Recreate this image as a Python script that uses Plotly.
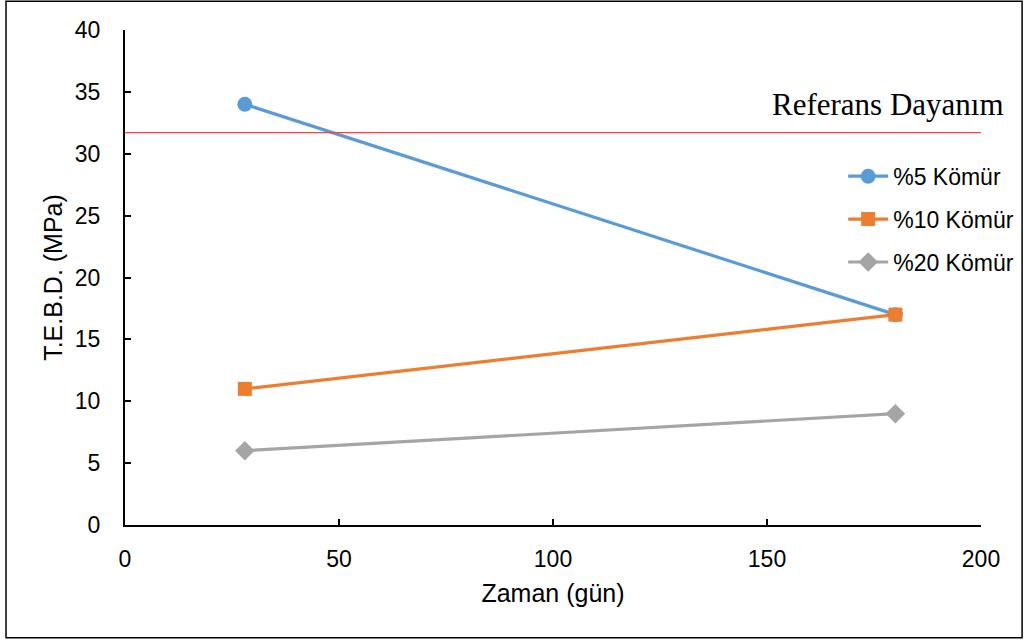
import plotly.graph_objects as go

# data
days = [28, 180]
komur_5 = [34, 17]
komur_10 = [11, 17]
komur_20 = [6, 9]
ref_strength = 31.7
series_names = ["%5 Kömür", "%10 Kömür", "%20 Kömür"]

fig = go.Figure()

styles = [
    dict(color="#5B9BD5", symbol="circle", size=15),
    dict(color="#ED7D31", symbol="square", size=14),
    dict(color="#A5A5A5", symbol="diamond", size=15),
]
for name, vals, st in zip(series_names, [komur_5, komur_10, komur_20], styles):
    fig.add_trace(go.Scatter(
        x=days, y=vals, name=name, mode="lines+markers",
        line=dict(color=st["color"], width=3.2),
        marker=dict(color=st["color"], symbol=st["symbol"], size=st["size"]),
        legendgroup=name,
    ))

# reference strength line across the whole x range
fig.add_trace(go.Scatter(
    x=[0, 200], y=[ref_strength, ref_strength], mode="lines",
    line=dict(color="#FF4040", width=1.2), showlegend=False, hoverinfo="skip",
))

fig.add_annotation(
    x=1.029, y=ref_strength, xref="paper", yref="y",
    text="Referans Dayanım", showarrow=False,
    xanchor="right", yanchor="bottom", yshift=9,
    font=dict(family="Liberation Serif", size=31, color="black"),
)

# outer frame of the chart
fig.add_shape(
    type="rect", xref="paper", yref="paper",
    x0=-0.139, x1=1.048, y0=-0.228, y1=1.058,
    line=dict(color="black", width=1.5),
)

fig.update_xaxes(
    range=[0, 200], dtick=50, showline=True, linecolor="black", linewidth=2,
    ticks="inside", ticklen=6, tickcolor="black", tickwidth=2,
    showgrid=False, zeroline=False, ticklabelstandoff=12,
    title=dict(text="Zaman (gün)", font=dict(size=25), standoff=14),
    tickfont=dict(size=23),
)
fig.update_yaxes(
    range=[0, 40], dtick=5, showline=True, linecolor="black", linewidth=2,
    ticks="inside", ticklen=6, tickcolor="black", tickwidth=2,
    showgrid=False, zeroline=False, ticklabelstandoff=18,
    title=dict(text="T.E.B.D. (MPa)", font=dict(size=25), standoff=5),
    tickfont=dict(size=23),
)

fig.update_layout(
    width=1028, height=641,
    margin=dict(l=125, r=47, t=30, b=116, autoexpand=False),
    plot_bgcolor="white", paper_bgcolor="white",
    font=dict(family="Liberation Sans", color="black"),
    legend=dict(
        x=0.839, y=0.748, xanchor="left", yanchor="top",
        font=dict(size=23), tracegroupgap=10, itemwidth=40,
        bgcolor="rgba(0,0,0,0)",
    ),
)

fig.write_html("out.html", config={"displayModeBar": False},
               post_script="document.body.style.margin='0px';")
